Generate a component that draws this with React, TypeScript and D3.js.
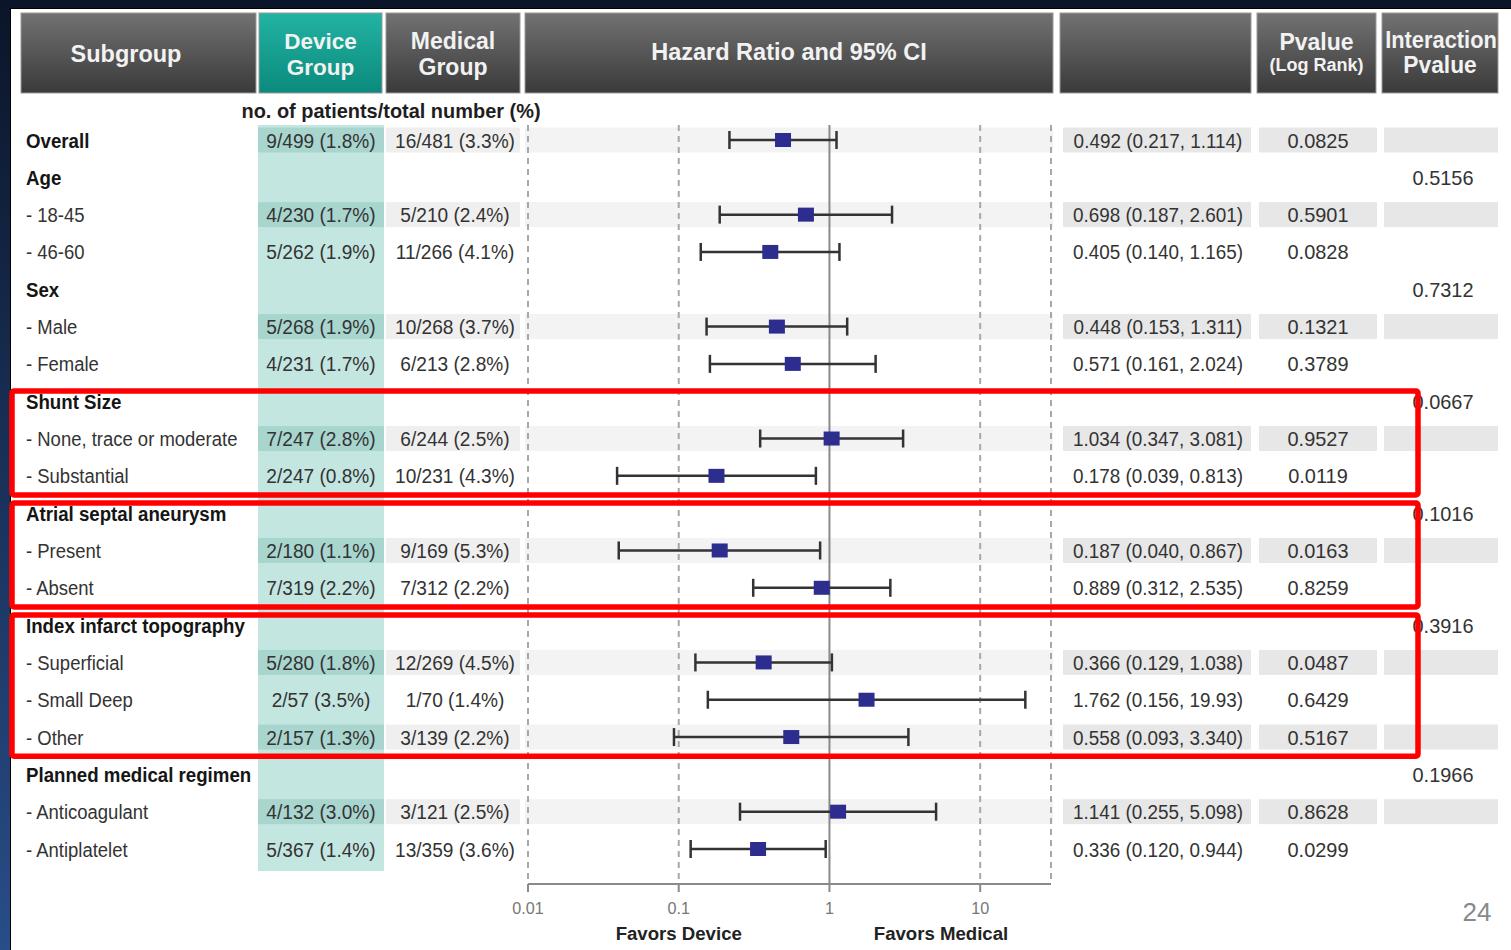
import * as d3 from 'd3';

const subgroups = [
  'Overall', 'Age', '- 18-45', '- 46-60', 'Sex', '- Male', '- Female',
  'Shunt Size', '- None, trace or moderate', '- Substantial',
  'Atrial septal aneurysm', '- Present', '- Absent',
  'Index infarct topography', '- Superficial', '- Small Deep', '- Other',
  'Planned medical regimen', '- Anticoagulant', '- Antiplatelet',
];
const headerRows = [0, 1, 4, 7, 10, 13, 17];
const shadedRows = [0, 2, 5, 8, 11, 14, 16, 18];

const deviceCounts = [
  '9/499 (1.8%)', '', '4/230 (1.7%)', '5/262 (1.9%)', '', '5/268 (1.9%)', '4/231 (1.7%)',
  '', '7/247 (2.8%)', '2/247 (0.8%)', '', '2/180 (1.1%)', '7/319 (2.2%)',
  '', '5/280 (1.8%)', '2/57 (3.5%)', '2/157 (1.3%)', '', '4/132 (3.0%)', '5/367 (1.4%)',
];
const medicalCounts = [
  '16/481 (3.3%)', '', '5/210 (2.4%)', '11/266 (4.1%)', '', '10/268 (3.7%)', '6/213 (2.8%)',
  '', '6/244 (2.5%)', '10/231 (4.3%)', '', '9/169 (5.3%)', '7/312 (2.2%)',
  '', '12/269 (4.5%)', '1/70 (1.4%)', '3/139 (2.2%)', '', '3/121 (2.5%)', '13/359 (3.6%)',
];
const hazard = [0.492, null, 0.698, 0.405, null, 0.448, 0.571, null, 1.034, 0.178, null, 0.187, 0.889, null, 0.366, 1.762, 0.558, null, 1.141, 0.336];
const lower = [0.217, null, 0.187, 0.140, null, 0.153, 0.161, null, 0.347, 0.039, null, 0.040, 0.312, null, 0.129, 0.156, 0.093, null, 0.255, 0.120];
const upper = [1.114, null, 2.601, 1.165, null, 1.311, 2.024, null, 3.081, 0.813, null, 0.867, 2.535, null, 1.038, 19.93, 3.340, null, 5.098, 0.944];
const pvalues = ['0.0825', '', '0.5901', '0.0828', '', '0.1321', '0.3789', '', '0.9527', '0.0119', '', '0.0163', '0.8259', '', '0.0487', '0.6429', '0.5167', '', '0.8628', '0.0299'];
const interaction = ['', '0.5156', '', '', '0.7312', '', '', '0.0667', '', '', '0.1016', '', '', '0.3916', '', '', '', '0.1966', '', ''];

const axisTicks = [0.01, 0.1, 1, 10];
const highlighted = [[7, 9], [10, 12], [13, 16]];

const SANS = "'Liberation Sans', Arial, sans-serif";

const fmt = (v: number) => (v >= 10 ? v.toFixed(2) : v.toFixed(3));

// narrow text: the source uses a condensed face, so squeeze Liberation Sans horizontally
function T({ x, y, k = 0.9, anchor = 'start', size = 21, weight = 400, fill = '#333', children }: any) {
  return (
    <text transform={`translate(${x},${y}) scale(${k},1)`} textAnchor={anchor}
      fontFamily={SANS} fontSize={size} fontWeight={weight} fill={fill}>{children}</text>
  );
}

export default function App() {
  const W = 1511;
  const H = 950;
  const y = d3.scaleLinear().domain([0, subgroups.length - 1]).range([140, 849]);
  const step = y(1) - y(0);
  const x = d3.scaleLog().domain([0.01, 29.5]).range([528, 1051]);
  const plotTop = 125;
  const axisY = 884;

  const cols = [
    { x0: 21, x1: 256, fill: 'url(#hdrGray)' },
    { x0: 259, x1: 382, fill: 'url(#hdrTeal)' },
    { x0: 386, x1: 520, fill: 'url(#hdrGray)' },
    { x0: 525, x1: 1053, fill: 'url(#hdrGray)' },
    { x0: 1060, x1: 1251, fill: 'url(#hdrGray)' },
    { x0: 1257, x1: 1376, fill: 'url(#hdrGray)' },
    { x0: 1382, x1: 1498, fill: 'url(#hdrGray)' },
  ];
  const mid = (i: number) => (cols[i].x0 + cols[i].x1) / 2;
  const bandH = 25;

  return (
    <svg width={W} height={H} style={{ position: 'absolute', left: 0, top: 0 }}>
      <defs>
        <linearGradient id="frame" x1="0" y1="0" x2="0" y2="1">
          <stop offset="0" stopColor="#0b1529" />
          <stop offset="1" stopColor="#284d88" />
        </linearGradient>
        <linearGradient id="hdrGray" x1="0" y1="0" x2="0" y2="1">
          <stop offset="0" stopColor="#727272" />
          <stop offset="1" stopColor="#3a3a3a" />
        </linearGradient>
        <linearGradient id="hdrTeal" x1="0" y1="0" x2="0" y2="1">
          <stop offset="0" stopColor="#22b3a3" />
          <stop offset="1" stopColor="#0b8a7c" />
        </linearGradient>
      </defs>
      <rect x={0} y={0} width={W} height={H} fill="url(#frame)" />
      <rect x={10} y={8} width={W - 10} height={H - 8} fill="#000" />
      <rect x={11} y={9} width={W - 11} height={H - 9} fill="#ffffff" />

      {/* header */}
      {cols.map((c, i) => (
        <rect key={i} x={c.x0} y={13} width={c.x1 - c.x0} height={80} fill={c.fill} stroke="#9a9a9a" strokeWidth={1} />
      ))}
      <T x={126} y={62} anchor="middle" size={23.5} weight={700} fill="#f2f2f2" k={1}>Subgroup</T>
      <T x={mid(1)} y={49} anchor="middle" size={22.5} weight={700} fill="#f2f2f2" k={1}>Device</T>
      <T x={mid(1)} y={75} anchor="middle" size={22.5} weight={700} fill="#f2f2f2" k={1}>Group</T>
      <T x={mid(2)} y={49} anchor="middle" size={23} weight={700} fill="#f2f2f2" k={1}>Medical</T>
      <T x={mid(2)} y={75} anchor="middle" size={23} weight={700} fill="#f2f2f2" k={1}>Group</T>
      <T x={mid(3)} y={60} anchor="middle" size={23.5} weight={700} fill="#f2f2f2" k={1}>Hazard Ratio and 95% CI</T>
      <T x={mid(5)} y={50} anchor="middle" size={23} weight={700} fill="#f2f2f2" k={1}>Pvalue</T>
      <T x={mid(5)} y={71} anchor="middle" size={18} weight={700} fill="#f2f2f2" k={1}>(Log Rank)</T>
      <T x={mid(6) + 1} y={48} anchor="middle" size={24} weight={700} fill="#f2f2f2" k={0.91}>Interaction</T>
      <T x={mid(6)} y={73} anchor="middle" size={24} weight={700} fill="#f2f2f2" k={0.95}>Pvalue</T>

      <T x={391} y={118} anchor="middle" weight={700} fill="#1e1e1e" k={0.95}>no. of patients/total number (%)</T>

      {/* device column background */}
      <rect x={258} y={plotTop} width={126} height={746} fill="#c4e6e1" />

      {/* shaded row bands */}
      {shadedRows.map(r => (
        <g key={r}>
          <rect x={258} y={y(r) - bandH / 2} width={126} height={bandH} fill="#a9d5cf" />
          <rect x={386} y={y(r) - bandH / 2} width={134} height={bandH} fill="#efefef" />
          <rect x={525} y={y(r) - bandH / 2} width={528} height={bandH} fill="#f3f3f3" />
          <rect x={1063} y={y(r) - bandH / 2} width={188} height={bandH} fill="#e7e7e7" />
          <rect x={1259} y={y(r) - bandH / 2} width={118} height={bandH} fill="#e7e7e7" />
          <rect x={1384} y={y(r) - bandH / 2} width={114} height={bandH} fill="#e7e7e7" />
        </g>
      ))}

      {/* reference lines */}
      {[0.01, 0.1, 10, 29.5].map(v => (
        <line key={v} x1={x(v)} x2={x(v)} y1={plotTop} y2={axisY}
          stroke="#a8a8a8" strokeWidth={2} strokeDasharray="6 5" />
      ))}
      <line x1={x(1)} x2={x(1)} y1={plotTop} y2={axisY} stroke="#8a8a8a" strokeWidth={2} />

      {/* axis */}
      <line x1={x(0.01)} x2={x(29.5)} y1={axisY} y2={axisY} stroke="#8a8a8a" strokeWidth={2} />
      {axisTicks.map(t => (
        <g key={t}>
          <line x1={x(t)} x2={x(t)} y1={axisY} y2={axisY + 8} stroke="#8a8a8a" strokeWidth={2} />
          <T x={x(t)} y={914} anchor="middle" fill="#777" size={17} k={0.95}>{String(t)}</T>
        </g>
      ))}
      <T x={x(0.1)} y={940} anchor="middle" fill="#222" weight={700} size={19} k={0.98}>Favors Device</T>
      <T x={941} y={940} anchor="middle" fill="#222" weight={700} size={19} k={0.98}>Favors Medical</T>

      {/* rows */}
      {subgroups.map((s, i) => {
        const cy = y(i);
        const by = cy + 7.5;
        const isHdr = headerRows.includes(i);
        const h = hazard[i];
        const lo = lower[i];
        const hi = upper[i];
        return (
          <g key={i}>
            <T x={26} y={by} weight={isHdr ? 700 : 400} fill={isHdr ? '#151515' : '#333'} k={isHdr ? 0.89 : 0.88}>{s}</T>
            {deviceCounts[i] && <T x={321} y={by} anchor="middle" k={0.91}>{deviceCounts[i]}</T>}
            {medicalCounts[i] && <T x={455} y={by} anchor="middle" k={0.91}>{medicalCounts[i]}</T>}
            {h != null && lo != null && hi != null && (
              <g>
                <line x1={x(lo)} x2={x(hi)} y1={cy} y2={cy} stroke="#333" strokeWidth={2.5} />
                <line x1={x(lo)} x2={x(lo)} y1={cy - 9} y2={cy + 9} stroke="#333" strokeWidth={2.5} />
                <line x1={x(hi)} x2={x(hi)} y1={cy - 9} y2={cy + 9} stroke="#333" strokeWidth={2.5} />
                <rect x={x(h) - 8} y={cy - 7} width={16} height={14} fill="#2d2d8f" />
                <T x={1158} y={by} anchor="middle" k={0.9}>{`${fmt(h)} (${fmt(lo)}, ${fmt(hi)})`}</T>
              </g>
            )}
            {pvalues[i] && <T x={1318} y={by} anchor="middle" k={0.95}>{pvalues[i]}</T>}
            {interaction[i] && <T x={1443} y={by} anchor="middle" k={0.95}>{interaction[i]}</T>}
          </g>
        );
      })}

      {/* highlight boxes */}
      {highlighted.map(([a, b], i) => {
        const top = y(a) - step / 2 + 8.5;
        const bot = y(b) + step / 2 + 0.5;
        return (
          <rect key={i} x={12} y={top} width={1406} height={bot - top}
            fill="none" stroke="#ff0000" strokeWidth={5.5} rx={2} />
        );
      })}

      <T x={1477} y={921} anchor="middle" fill="#8a8a8a" size={26} k={1}>24</T>
    </svg>
  );
}
